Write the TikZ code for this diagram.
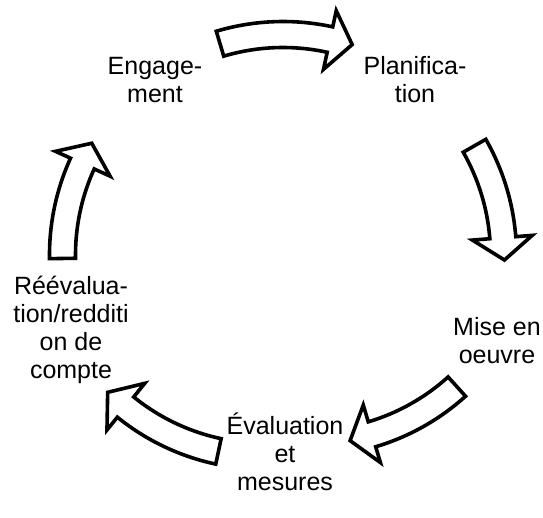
\documentclass[tikz,border=0pt]{standalone}
\usepackage{fontspec}
\setmainfont{Liberation Sans}
\tikzset{
  blockarrow/.style={draw=black, fill=white, line width=3.6bp, line join=miter},
  cyctext/.style={font=\fontsize{25bp}{28bp}\selectfont, align=center, inner sep=0pt}
}
% [#1 centre of the arc] #2 start angle, #3 angle where the head begins, #4 angle of the tip
\newcommand\cycarrow[4][0bp,0bp]{%
  \begin{scope}[shift={(#1)}]
  \draw[blockarrow] (#2:233.5bp) arc[start angle=#2, end angle=#3, radius=233.5bp]
    -- (#3:250bp) -- (#4:221.5bp) -- (#3:190bp) -- (#3:207.5bp)
    arc[start angle=#3, end angle=#2, radius=207.5bp] -- cycle;
  \end{scope}}
\begin{document}
\begin{tikzpicture}
\fill[white] (-283bp,-263bp) rectangle (260bp,255bp);
\useasboundingbox (-283bp,-263bp) rectangle (260bp,255bp);
% text nodes
\node[cyctext] (eng)  at (-128bp,172bp) {Engage-\strut\\ment\strut};
\node[cyctext] (plan) at (132bp,172bp) {Planifica-\strut\\tion\strut};
\node[cyctext] (mise) at (214bp,-89bp) {Mise en\strut\\oeuvre\strut};
\node[cyctext] (eval) at (2bp,-201bp) {Évaluation\strut\\et\strut\\mesures\strut};
\node[cyctext] (reev) at (-212bp,-75.7bp) {Réévalua-\strut\\tion/redditi\strut\\on de\strut\\compte\strut};
% block arrows of the cycle
\cycarrow{106.6}{77.7}{71.8}
\cycarrow{29.7}{4.5}{-1.3}
\cycarrow[26bp,32bp]{-47.9}{-73.4}{-79.3}
\cycarrow[-18.7bp,19.3bp]{-102}{-129}{-135}
\cycarrow{180.9}{155.5}{149.7}
\end{tikzpicture}
\end{document}
